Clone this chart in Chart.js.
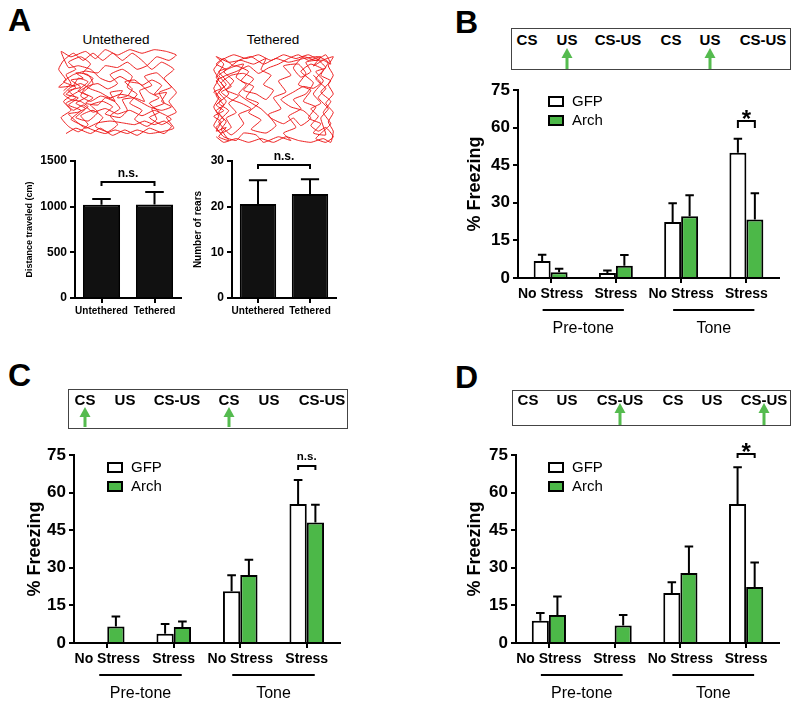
<!DOCTYPE html>
<html>
<head>
<meta charset="utf-8">
<script src="https://cdn.jsdelivr.net/npm/chart.js@4.4.0/dist/chart.umd.min.js"></script>
<style>
  body { margin: 0; background: #fff; }
  #page { position: relative; width: 800px; height: 706px; overflow: hidden;
          font-family: 'Liberation Sans', Arial, sans-serif; color: #000; }
  #page canvas { position: absolute; }
  .lbl { position: absolute; white-space: nowrap; line-height: 1; }
  .letter { font-weight: bold; font-size: 32px; }
  .title { font-size: 13.5px; transform: translate(-50%, -50%); }
  .evbox { position: absolute; border: 1px solid #444; box-sizing: border-box; }
  .ev { position: absolute; font-weight: bold; font-size: 15px; line-height: 1;
        transform: translate(-50%, -50%); white-space: nowrap; }
  svg.arrows { position: absolute; left: 0; top: 0; }
</style>
</head>
<body>
<div id="page"></div>
<script>
const FONT = "'Liberation Sans', Arial, sans-serif";
const GREEN = '#4cb848';
const ARROW_GREEN = '#55bb4f';

// ---- panel A ----
const A_GROUPS = ['Untethered', 'Tethered'];
const A_DIST = [1020, 1025];
const A_DIST_ERR = [65, 135];
const A_REARS = [20.6, 22.8];
const A_REARS_ERR = [5.2, 3.2];

// open-field tracks, traced roughly by eye (0-100 box)
const U_PATH = [[6,52],[12,60],[8,70],[16,76],[10,84],[20,90],[28,82],[22,72],[30,66],[24,56],[14,48],[6,40],[12,30],[4,22],[10,12],[18,6],[26,14],[20,24],[30,30],[38,22],[32,12],[42,6],[50,14],[44,24],[52,32],[46,42],[36,46],[28,40],[20,46],[24,56],[34,60],[42,54],[50,60],[44,70],[54,76],[62,68],[58,56],[66,48],[60,38],[70,30],[64,20],[74,12],[82,20],[78,32],[88,38],[84,50],[94,56],[88,66],[96,76],[86,84],[78,76],[70,86],[62,94],[54,86],[46,94],[38,86],[30,94],[22,86],[14,94],[6,86],[2,76],[8,64],[2,56],[14,58],[18,66],[26,62],[18,52],[26,46],[16,38],[24,32],[16,22],[26,18],[34,28],[28,36],[38,40],[46,34],[40,26],[52,22],[58,30],[54,42],[64,44],[72,40],[68,52],[78,58],[72,68],[82,72],[90,62],[98,50],[92,40],[98,28],[90,22],[96,10],[86,6],[76,4],[66,8],[58,4],[48,8],[40,4],[30,8],[20,14],[12,20],[20,30],[10,36],[18,44],[8,48],[16,56],[6,62],[14,70],[24,74],[34,72],[40,80],[50,78],[58,84],[66,76],[74,80],[82,90],[92,86],[98,92],[90,96],[80,98],[70,94],[60,98],[50,92],[40,98],[32,88],[24,96],[12,90],[4,96],[10,78],[18,80],[28,76],[36,66],[44,62],[52,68],[60,62],[68,60],[76,50],[84,44],[76,38],[84,28],[76,22],[86,14],[94,20],[90,24],[80,30],[70,24],[60,30],[50,26],[40,32],[30,28],[22,36],[14,30],[8,38],[16,44],[10,52],[20,56],[12,64],[22,66],[16,72],[26,70],[30,60],[22,50],[30,44],[24,38],[34,36],[40,44],[48,40],[44,50],[54,52],[50,44],[58,46],[62,54],[56,62],[64,64],[70,58],[78,64],[86,58],[80,48],[90,50],[86,40],[94,34],[86,30],[76,34],[68,40],[60,46],[52,48],[44,44],[36,50],[28,54],[20,60],[12,56],[6,48],[12,42],[20,40],[26,34],[18,28],[10,26],[16,18],[24,10],[34,16],[44,18],[54,16],[64,14],[72,18],[80,14],[88,18],[94,12],[88,4],[76,10],[66,2],[56,8],[46,2],[36,10],[28,4],[16,10],[8,4]];
const T_PATH = [[4,10],[10,4],[20,8],[30,4],[40,8],[50,4],[60,10],[70,6],[80,4],[90,8],[96,4],[98,16],[94,26],[98,36],[92,46],[98,56],[94,66],[98,76],[94,86],[98,96],[88,92],[78,98],[68,94],[58,98],[48,92],[38,98],[28,94],[18,98],[8,92],[2,82],[6,72],[2,62],[6,52],[2,42],[6,32],[2,22],[8,14],[16,20],[12,30],[20,36],[14,46],[22,54],[12,60],[18,70],[10,80],[20,86],[30,80],[24,70],[34,64],[28,52],[38,46],[30,36],[40,28],[32,18],[44,14],[52,22],[46,34],[56,40],[50,52],[60,58],[54,70],[64,76],[58,86],[70,88],[76,78],[70,66],[80,60],[74,48],[84,42],[78,30],[88,24],[82,14],[92,12],[88,30],[94,40],[86,52],[92,62],[84,72],[90,82],[80,88],[72,80],[82,68],[76,56],[66,50],[72,40],[62,32],[68,20],[58,14],[64,6],[54,10],[42,4],[36,12],[26,14],[20,6],[10,10],[4,20],[10,28],[4,38],[10,44],[4,54],[10,64],[4,74],[10,88],[4,96],[14,90],[24,92],[34,88],[44,94],[40,82],[48,76],[42,66],[50,60],[44,50],[36,56],[26,60],[34,72],[26,78],[16,76],[8,68],[14,56],[6,46],[14,38],[6,26],[16,12],[26,24],[22,34],[32,40],[24,46],[16,50],[8,58],[16,64],[6,80],[14,84],[22,92],[32,96],[42,88],[52,94],[62,90],[74,94],[86,96],[94,90],[88,76],[96,70],[88,58],[96,48],[90,36],[96,24],[90,16],[84,8],[92,4],[98,10],[92,20],[86,16],[80,22],[86,32],[80,40],[88,46],[82,56],[90,70],[84,80],[92,84],[86,92],[76,90],[80,80],[72,74],[66,84],[74,96],[84,92],[92,98],[96,88],[90,92],[82,86],[88,96],[78,92],[70,98],[62,94],[54,88],[46,84],[38,78],[30,86],[20,80],[12,76],[4,70],[8,62],[2,58],[8,50],[4,44],[10,38],[2,32],[8,26],[4,16],[12,20],[6,10],[14,6],[8,18],[12,26],[6,36],[12,48],[6,58],[12,66],[6,76],[12,82],[4,88],[10,94],[18,86],[26,88],[20,74],[28,66],[22,56],[30,48],[40,40],[48,30],[58,24],[66,30],[72,22],[80,30],[74,38],[64,42],[56,50],[66,58],[74,64],[82,62],[88,68],[82,76]];

// ---- panels B-D ----
const CONDITIONS = ['No Stress', 'Stress', 'No Stress', 'Stress'];
const PERIODS = ['Pre-tone', 'Tone'];
const EVENTS = ['CS', 'US', 'CS-US', 'CS', 'US', 'CS-US'];

const B_GFP      = [6.8, 2.0, 22.3, 50.0];
const B_GFP_ERR  = [2.5, 1.0, 7.5, 5.6];
const B_ARCH     = [2.3, 4.9, 24.6, 23.3];
const B_ARCH_ERR = [1.4, 4.3, 8.4, 10.5];

const C_GFP      = [null, 3.7, 20.6, 55.5];
const C_GFP_ERR  = [null, 3.9, 6.4, 9.5];
const C_ARCH     = [6.6, 6.4, 27.1, 48.1];
const C_ARCH_ERR = [4.0, 2.2, 6.1, 7.1];

const D_GFP      = [8.9, null, 19.9, 55.5];
const D_GFP_ERR  = [3.1, null, 4.3, 14.6];
const D_ARCH     = [11.2, 7.0, 27.9, 22.3];
const D_ARCH_ERR = [7.4, 4.2, 10.6, 9.8];

const page = document.getElementById('page');

function addCanvas(left, top, w, h) {
  const c = document.createElement('canvas');
  c.width = w; c.height = h;
  c.style.left = left + 'px'; c.style.top = top + 'px';
  c.style.width = w + 'px'; c.style.height = h + 'px';
  page.appendChild(c);
  return c;
}

function addLabel(cls, text, x, y) {
  const d = document.createElement('div');
  d.className = 'lbl ' + cls;
  d.textContent = text;
  d.style.left = x + 'px'; d.style.top = y + 'px';
  page.appendChild(d);
}

// error bars, brackets, legend and period underlines
const deco = {
  id: 'deco',
  afterDatasetsDraw(chart, args, opts) {
    const { ctx, chartArea, scales: { x, y } } = chart;
    ctx.save();
    ctx.strokeStyle = '#000';
    ctx.fillStyle = '#000';
    ctx.lineWidth = 2;

    chart.data.datasets.forEach((ds, di) => {
      const meta = chart.getDatasetMeta(di);
      ds.data.forEach((v, i) => {
        const e = ds.errors[i];
        if (v == null || e == null) return;
        const bar = meta.data[i];
        const top = y.getPixelForValue(v + e);
        const cap = bar.width / 4;
        ctx.beginPath();
        ctx.moveTo(bar.x, bar.y);
        ctx.lineTo(bar.x, top);
        ctx.moveTo(bar.x - cap, top);
        ctx.lineTo(bar.x + cap, top);
        ctx.stroke();
      });
    });

    (opts.brackets || []).forEach(b => {
      const x1 = chart.getDatasetMeta(b.a[0]).data[b.a[1]].x;
      const x2 = chart.getDatasetMeta(b.b[0]).data[b.b[1]].x;
      const yy = Math.round(y.getPixelForValue(b.value));
      ctx.beginPath();
      ctx.moveTo(x1, yy + b.leg);
      ctx.lineTo(x1, yy);
      ctx.lineTo(x2, yy);
      ctx.lineTo(x2, yy + b.leg);
      ctx.stroke();
      ctx.font = b.font;
      ctx.textAlign = 'center';
      ctx.textBaseline = 'alphabetic';
      ctx.fillText(b.text, (x1 + x2) / 2, yy + b.dy);
    });

    if (opts.legend) {
      const L = opts.legend;
      ctx.font = '15px ' + FONT;
      ctx.textAlign = 'left';
      ctx.textBaseline = 'middle';
      chart.data.datasets.forEach((ds, di) => {
        const bx = chartArea.left + L.dx;
        const by = chartArea.top + L.dy + di * 19;
        ctx.fillStyle = ds.backgroundColor;
        ctx.fillRect(bx, by, 14, 9);
        ctx.strokeRect(bx, by, 14, 9);
        ctx.fillStyle = '#000';
        ctx.fillText(ds.label, bx + 23, by + 5);
      });
    }

    if (opts.groups) {
      ctx.font = '16px ' + FONT;
      ctx.textAlign = 'center';
      ctx.textBaseline = 'middle';
      opts.groups.forEach((g, gi) => {
        const x1 = x.getPixelForValue(gi * 2) - 8;
        const x2 = x.getPixelForValue(gi * 2 + 1) + 8;
        const yl = chartArea.bottom + 32;
        ctx.beginPath();
        ctx.moveTo(x1, yl);
        ctx.lineTo(x2, yl);
        ctx.stroke();
        ctx.fillText(g, (x1 + x2) / 2, chartArea.bottom + 51);
      });
    }
    ctx.restore();
  }
};

function barChart(area, o) {
  const padL = o.padL, padT = o.padT, padR = 12, padB = o.padB;
  const w = area.r - area.l + padL + padR;
  const h = area.b - area.t + padT + padB;
  const canvas = addCanvas(area.l - padL, area.t - padT, w, h);
  const lh = o.titleSize * 1.2;
  const axisLine = { color: '#000', width: 2 };
  const tickGrid = { drawOnChartArea: false, color: '#000', lineWidth: 2, tickLength: 5 };
  return new Chart(canvas, {
    type: 'bar',
    data: { labels: o.labels, datasets: o.datasets },
    plugins: [deco],
    options: {
      responsive: false,
      animation: false,
      devicePixelRatio: 1,
      layout: { padding: { left: 0, top: padT, right: padR, bottom: 0 } },
      plugins: { legend: { display: false }, tooltip: { enabled: false }, deco: o.deco },
      datasets: {
        bar: { categoryPercentage: o.catPct, barPercentage: 1, borderWidth: 2,
               borderColor: '#000' }
      },
      scales: {
        x: {
          afterFit: s => { s.height = padB; },
          grid: Object.assign({ offset: false }, tickGrid),
          border: axisLine,
          ticks: { color: '#000', font: { family: FONT, weight: 'bold', size: o.xFont },
                   padding: o.xPad, maxRotation: 0, autoSkip: false },
        },
        y: {
          min: o.min, max: o.max,
          afterFit: s => { s.width = padL; },
          grid: tickGrid,
          border: axisLine,
          ticks: { stepSize: o.step, color: '#000', padding: 3, callback: v => String(v),
                   font: { family: FONT, weight: 'bold', size: o.yFont } },
          title: { display: true, text: o.yTitle, color: '#000',
                   font: { family: FONT, weight: 'bold', size: o.titleSize },
                   padding: { top: o.titleX - (area.l - padL) - lh / 2, bottom: 0 } },
        },
      },
    },
  });
}

function track(box, path) {
  const canvas = addCanvas(box.l, box.t, box.w, box.h);
  return new Chart(canvas, {
    type: 'scatter',
    data: { datasets: [{
      data: path.map(p => ({ x: p[0], y: p[1] })),
      showLine: true, borderColor: 'rgba(236,20,20,0.95)', borderWidth: 1,
      pointRadius: 0, tension: 0.15,
    }] },
    options: {
      responsive: false, animation: false, devicePixelRatio: 1,
      layout: { padding: 0 },
      plugins: { legend: { display: false }, tooltip: { enabled: false } },
      scales: {
        x: { display: false, min: -1, max: 101 },
        y: { display: false, min: -1, max: 101 },
      },
    },
  });
}

function eventBox(box, xs, arrowsAt, textY, tip, base) {
  const d = document.createElement('div');
  d.className = 'evbox';
  d.style.left = box.l + 'px'; d.style.top = box.t + 'px';
  d.style.width = (box.r - box.l) + 'px'; d.style.height = (box.b - box.t) + 'px';
  page.appendChild(d);
  EVENTS.forEach((t, i) => {
    const s = document.createElement('div');
    s.className = 'ev';
    s.textContent = t;
    s.style.left = xs[i] + 'px'; s.style.top = textY + 'px';
    page.appendChild(s);
  });
  const ns = 'http://www.w3.org/2000/svg';
  const svg = document.createElementNS(ns, 'svg');
  svg.setAttribute('class', 'arrows');
  svg.setAttribute('width', 800); svg.setAttribute('height', 706);
  arrowsAt.forEach(ax => {
    const head = document.createElementNS(ns, 'polygon');
    head.setAttribute('points', `${ax},${tip} ${ax - 5.5},${tip + 10} ${ax + 5.5},${tip + 10}`);
    head.setAttribute('fill', ARROW_GREEN);
    svg.appendChild(head);
    const shaft = document.createElementNS(ns, 'rect');
    shaft.setAttribute('x', ax - 1.5); shaft.setAttribute('y', tip + 9);
    shaft.setAttribute('width', 3); shaft.setAttribute('height', base - tip - 9);
    shaft.setAttribute('fill', ARROW_GREEN);
    svg.appendChild(shaft);
  });
  page.appendChild(svg);
}

function freezeSets(gfp, gfpErr, arch, archErr) {
  return [
    { label: 'GFP', data: gfp, errors: gfpErr, backgroundColor: '#fff' },
    { label: 'Arch', data: arch, errors: archErr, backgroundColor: GREEN },
  ];
}

function freezeChart(area, titleX, sets, legend, bracket) {
  return barChart(area, {
    labels: CONDITIONS, datasets: sets,
    padL: 62, padT: 26, padB: 62, catPct: 0.52,
    min: 0, max: 75, step: 15, xFont: 14, xPad: 3, yFont: 17,
    yTitle: '% Freezing', titleSize: 18, titleX,
    deco: { legend, groups: PERIODS, brackets: [bracket] },
  });
}

// ---- labels ----
addLabel('letter', 'A', 8, 4);
addLabel('letter', 'B', 455, 6);
addLabel('letter', 'C', 8, 359);
addLabel('letter', 'D', 455, 361);
addLabel('title', 'Untethered', 116, 40);
addLabel('title', 'Tethered', 273, 40);

// ---- panel A ----
track({ l: 55, t: 47, w: 125, h: 91 }, U_PATH);
track({ l: 210, t: 52, w: 127, h: 95 }, T_PATH);

barChart({ l: 75, r: 181, t: 161, b: 298 }, {
  labels: A_GROUPS,
  datasets: [{ data: A_DIST, errors: A_DIST_ERR, backgroundColor: '#111' }],
  padL: 62, padT: 20, padB: 22, catPct: 0.7,
  min: 0, max: 1500, step: 500, xFont: 10, xPad: 2, yFont: 12,
  yTitle: 'Distance traveled (cm)', titleSize: 9, titleX: 30,
  deco: { brackets: [{ a: [0, 0], b: [0, 1], value: 1270, leg: 4, dy: -5, text: 'n.s.', font: 'bold 12px ' + FONT }] },
});

barChart({ l: 232, r: 336, t: 161, b: 298 }, {
  labels: A_GROUPS,
  datasets: [{ data: A_REARS, errors: A_REARS_ERR, backgroundColor: '#111' }],
  padL: 45, padT: 20, padB: 22, catPct: 0.7,
  min: 0, max: 30, step: 10, xFont: 10, xPad: 2, yFont: 12,
  yTitle: 'Number of rears', titleSize: 10, titleX: 198,
  deco: { brackets: [{ a: [0, 0], b: [0, 1], value: 29.1, leg: 4, dy: -5, text: 'n.s.', font: 'bold 12px ' + FONT }] },
});

// ---- panel B ----
eventBox({ l: 511, t: 28, r: 791, b: 70 }, [527, 567, 618, 671, 710, 763], [567, 710], 39, 48, 69);
freezeChart({ l: 518, r: 779, t: 90, b: 278 }, 475,
  freezeSets(B_GFP, B_GFP_ERR, B_ARCH, B_ARCH_ERR),
  { dx: 31, dy: 7 },
  { a: [0, 3], b: [1, 3], value: 62.6, leg: 7, dy: 6, text: '*', font: 'bold 24px ' + FONT });

// ---- panel C ----
eventBox({ l: 68, t: 389, r: 348, b: 429 }, [85, 125, 177, 229, 269, 322], [85, 229], 399, 407, 427);
freezeChart({ l: 74, r: 340, t: 455, b: 643 }, 35,
  freezeSets(C_GFP, C_GFP_ERR, C_ARCH, C_ARCH_ERR),
  { dx: 34, dy: 8 },
  { a: [0, 3], b: [1, 3], value: 70.8, leg: 4, dy: -6, text: 'n.s.', font: 'bold 11.5px ' + FONT });

// ---- panel D ----
eventBox({ l: 512, t: 390, r: 791, b: 426 }, [528, 567, 620, 673, 712, 764], [620, 764], 399, 403, 425);
freezeChart({ l: 516, r: 779, t: 455, b: 643 }, 475,
  freezeSets(D_GFP, D_GFP_ERR, D_ARCH, D_ARCH_ERR),
  { dx: 33, dy: 8 },
  { a: [0, 3], b: [1, 3], value: 75.4, leg: 4, dy: 6, text: '*', font: 'bold 24px ' + FONT });
</script>
</body>
</html>
